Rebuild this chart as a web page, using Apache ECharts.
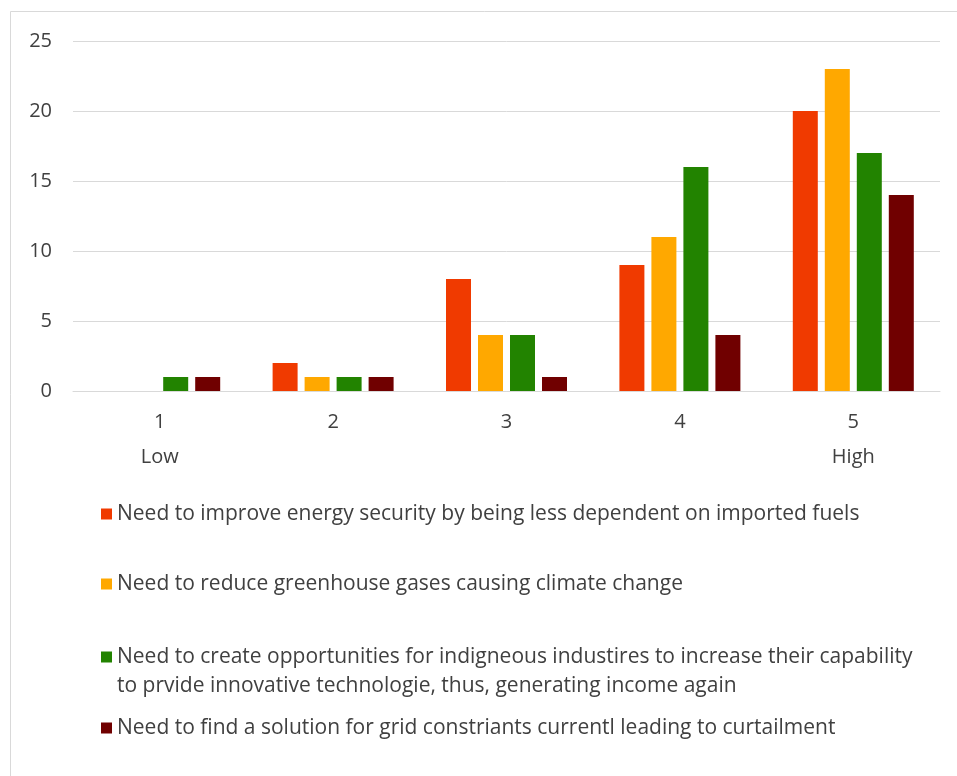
<!DOCTYPE html>
<html>
<head>
<meta charset="utf-8">
<style>
  html, body { margin: 0; padding: 0; background: #ffffff; }
  #chart { width: 957px; height: 776px; }
</style>
<script src="https://cdn.jsdelivr.net/npm/echarts@6/dist/echarts.min.js"></script>
</head>
<body>
<div id="chart"></div>
<script>
const categories = ['1', '2', '3', '4', '5'];
const categorySubLabels = ['Low', '', '', '', 'High'];
const yTicks = [0, 5, 10, 15, 20, 25];

const seriesNames = [
  'Need to improve energy security by being less dependent on imported fuels',
  'Need to reduce greenhouse gases causing climate change',
  'Need to create opportunities for indigneous industires to increase their capability',
  'Need to find a solution for grid constriants currentl leading to curtailment'
];
const seriesNameContinuation = 'to prvide innovative technologie, thus, generating income again';

const energySecurity = [0, 2, 8, 9, 20];
const greenhouseGases = [0, 1, 4, 11, 23];
const indigenousIndustries = [1, 1, 4, 16, 17];
const gridConstraints = [1, 1, 1, 4, 14];

const colors = ['#F03A00', '#FFA800', '#228300', '#700000'];

const FONT = "'Open Sans', 'Noto Sans', sans-serif";
const TEXT = '#404040';

const chart = echarts.init(document.getElementById('chart'), null, { renderer: 'canvas' });

const dataSets = [energySecurity, greenhouseGases, indigenousIndustries, gridConstraints];
const legendCenters = [514, 584, 657, 728];

const option = {
  animation: false,
  backgroundColor: '#ffffff',
  textStyle: { fontFamily: FONT },
  grid: { left: 73, right: 17, top: 41, bottom: 385, containLabel: false },
  xAxis: {
    type: 'category',
    data: categories,
    axisLine: { show: true, lineStyle: { color: '#d9d9d9', width: 1 } },
    axisTick: { show: false },
    axisLabel: {
      margin: 14,
      fontSize: 20,
      fontFamily: FONT,
      color: TEXT,
      lineHeight: 35,
      formatter: function (v, i) {
        const sub = categorySubLabels[i];
        return sub ? v + '\n' + sub : v;
      }
    }
  },
  yAxis: {
    type: 'value',
    min: yTicks[0],
    max: yTicks[yTicks.length - 1],
    interval: yTicks[1] - yTicks[0],
    axisLine: { show: false },
    axisTick: { show: false },
    splitLine: { lineStyle: { color: '#d9d9d9', width: 1 } },
    axisLabel: { margin: 21, fontSize: 20, fontFamily: FONT, color: TEXT }
  },
  legend: seriesNames.map(function (name, i) {
    return {
      data: [name],
      left: 101,
      top: legendCenters[i] - 13,
      orient: 'horizontal',
      icon: 'rect',
      itemWidth: 11,
      itemHeight: 11,
      selectedMode: false,
      padding: 0,
      textStyle: { fontSize: 21, fontFamily: FONT, color: TEXT, lineHeight: 26 }
    };
  }),
  graphic: [
    {
      type: 'rect',
      shape: { x: 10.5, y: 11.5, width: 1000, height: 1000 },
      style: { fill: 'none', stroke: '#d9d9d9', lineWidth: 1 },
      silent: true,
      z: -1
    },
    {
      type: 'text',
      left: 117,
      top: 686 - 13,
      style: {
        text: seriesNameContinuation,
        fontSize: 21,
        fontFamily: FONT,
        fill: TEXT,
        lineHeight: 26
      },
      silent: true
    }
  ],
  series: seriesNames.map(function (name, i) {
    return {
      name: name,
      type: 'bar',
      data: dataSets[i],
      barWidth: 25,
      barGap: '28%',
      itemStyle: { color: colors[i], borderWidth: 0 },
      emphasis: { disabled: true }
    };
  })
};

chart.setOption(option);
</script>
</body>
</html>
